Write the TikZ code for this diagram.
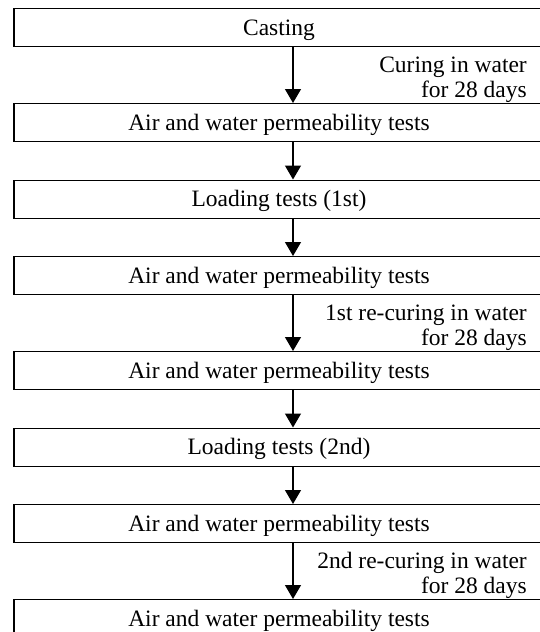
\documentclass[tikz,border=0pt]{standalone}
\usepackage{fontspec}
\setmainfont{Liberation Serif}
\usetikzlibrary{arrows.meta}
\begin{document}
\begin{tikzpicture}[x=1pt,y=-1pt,
  stepbox/.style={draw,line width=1.2pt,minimum width=530pt,minimum height=38pt,
    inner sep=0pt,text height=15.5pt,text depth=0pt,anchor=north,font=\fontsize{23.5}{27}\selectfont},
  lbl/.style={anchor=base east,inner sep=0pt,font=\fontsize{23.5}{27}\selectfont},
  arr/.style={line width=1.2pt,-{Triangle[width=16pt,length=14pt]}}]
\useasboundingbox (0,0) rectangle (540,632);
\clip (0,0) rectangle (540,632);
\node[stepbox] (b1) at (279,8) {Casting};
\node[stepbox] (b2) at (279,103) {Air and water permeability tests};
\node[stepbox] (b3) at (279,179.5) {Loading tests (1st)};
\node[stepbox] (b4) at (279,256) {Air and water permeability tests};
\node[stepbox] (b5) at (279,351) {Air and water permeability tests};
\node[stepbox] (b6) at (279,427.5) {Loading tests (2nd)};
\node[stepbox] (b7) at (279,504) {Air and water permeability tests};
\node[stepbox] (b8) at (279,599) {Air and water permeability tests};
\foreach \a/\b in {b1/b2,b2/b3,b3/b4,b4/b5,b5/b6,b6/b7,b7/b8}
  \draw[arr] ([xshift=14pt]\a.south) -- ([xshift=14pt]\b.north);
\node[lbl] (l1a) at (527,72) {Curing in water};
\node[lbl] (l1b) at (527,97) {for 28 days};
\node[lbl] (l2a) at (527,320) {1st re-curing in water};
\node[lbl] (l2b) at (527,345) {for 28 days};
\node[lbl] (l3a) at (527,568) {2nd re-curing in water};
\node[lbl] (l3b) at (527,593) {for 28 days};
\end{tikzpicture}
\end{document}
